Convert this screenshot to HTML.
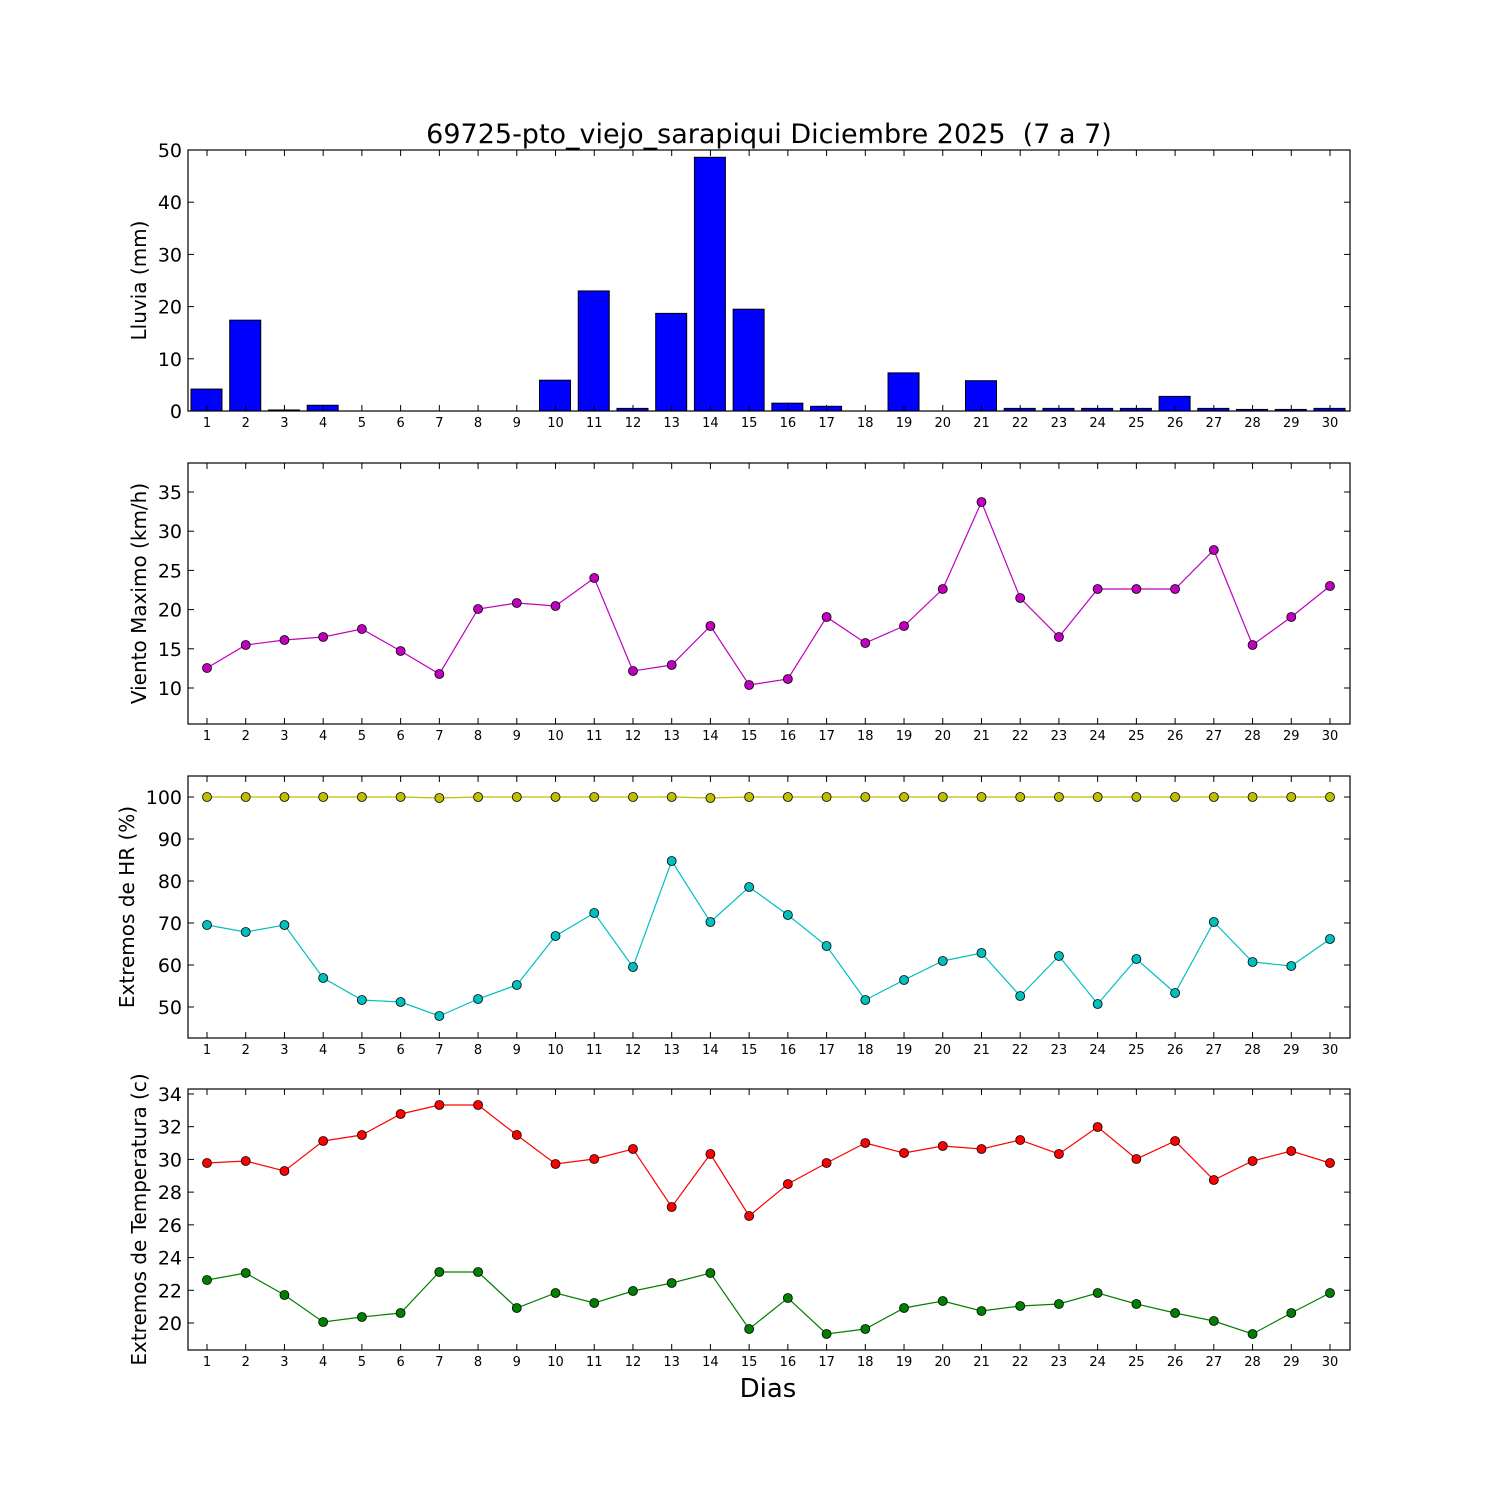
<!DOCTYPE html>
<html><head><meta charset="utf-8"><style>
html,body{margin:0;padding:0;background:#fff;}
svg text{font-family:"DejaVu Sans","Liberation Sans",sans-serif;}
</style></head><body>
<svg id="s" width="1500" height="1500" xmlns="http://www.w3.org/2000/svg"></svg>
<script>
const s=document.getElementById('s');let h='';
const X=d=>207+(d-1)*(1123/29);
const L=188,R=1350;
const panels=[{t:150,b:411},{t:463,b:724},{t:776,b:1038},{t:1089,b:1350}];
h+='<rect width="1500" height="1500" fill="#fff"/>';
const rain=[4.2,17.4,0.2,1.1,0,0,0,0,0,5.9,23,0.5,18.7,48.6,19.5,1.5,0.9,0,7.3,0,5.8,0.5,0.5,0.5,0.5,2.8,0.5,0.3,0.3,0.5];
rain.forEach((v,i)=>{const x=X(i+1)-16,y=411-v*5.22;h+=`<rect x="${x}" y="${y}" width="31" height="${411-y}" fill="#0000ff" stroke="#000" stroke-width="1"/>`;});
function line(ys,col){let p=ys.map((y,i)=>X(i+1)+','+y).join(' ');h+=`<polyline points="${p}" fill="none" stroke="${col}" stroke-width="1.2"/>`;ys.forEach((y,i)=>h+=`<circle cx="${X(i+1)}" cy="${y}" r="4.5" fill="${col}" stroke="#000" stroke-width="0.8"/>`);}
line([668,645,640,637,629,651,674,609,603,606,578,671,665,626,685,679,617,643,626,589,502,598,637,589,589,589,550,645,617,586],'#bf00bf');
line([797,797,797,797,797,797,798,797,797,797,797,797,797,798,797,797,797,797,797,797,797,797,797,797,797,797,797,797,797,797],'#bfbf00');
line([925,932,925,978,1000,1002,1016,999,985,936,913,967,861,922,887,915,946,1000,980,961,953,996,956,1004,959,993,922,962,966,939],'#00bfbf');
line([1163,1161,1171,1141,1135,1114,1105,1105,1135,1164,1159,1149,1207,1154,1216,1184,1163,1143,1153,1146,1149,1140,1154,1127,1159,1141,1180,1161,1151,1163],'#ff0000');
line([1280,1273,1295,1322,1317,1313,1272,1272,1308,1293,1303,1291,1283,1273,1329,1298,1334,1329,1308,1301,1311,1306,1304,1293,1304,1313,1321,1334,1313,1293],'#008000');
const yt=[
 {vals:[0,10,20,30,40,50],f:v=>411-v*5.22},
 {vals:[10,15,20,25,30,35],f:v=>688-(v-10)*7.84},
 {vals:[50,60,70,80,90,100],f:v=>797+(100-v)*4.2},
 {vals:[20,22,24,26,28,30,32,34],f:v=>1323-(v-20)*16.36}];
const labels=['Lluvia (mm)','Viento Maximo (km/h)','Extremos de HR (%)','Extremos de Temperatura (c)'];
const lx=[140,140,128,140];
panels.forEach((p,k)=>{
 h+=`<rect x="${L}" y="${p.t}" width="${R-L}" height="${p.b-p.t}" fill="none" stroke="#000" stroke-width="1.2"/>`;
 for(let d=1;d<=30;d++){const x=X(d);h+=`<line x1="${x}" y1="${p.b}" x2="${x}" y2="${p.b-6}" stroke="#000"/><line x1="${x}" y1="${p.t}" x2="${x}" y2="${p.t+6}" stroke="#000"/><text x="${x}" y="${p.b+16}" font-size="13" text-anchor="middle">${d}</text>`;}
 yt[k].vals.forEach(v=>{const y=yt[k].f(v);h+=`<line x1="${L}" y1="${y}" x2="${L+6}" y2="${y}" stroke="#000"/><line x1="${R}" y1="${y}" x2="${R-6}" y2="${y}" stroke="#000"/><text x="${L-6}" y="${y+7}" font-size="19" text-anchor="end">${v}</text>`;});
 const cy=(p.t+p.b)/2;h+=`<text x="${lx[k]+6}" y="${cy}" font-size="20" text-anchor="middle" transform="rotate(-90 ${lx[k]+6} ${cy})">${labels[k]}</text>`;
});
h+=`<text x="769" y="143" font-size="27" text-anchor="middle">69725-pto_viejo_sarapiqui Diciembre 2025 &#160;(7 a 7)</text>`;
h+=`<text x="768" y="1397" font-size="26" text-anchor="middle">Dias</text>`;
s.innerHTML=h;
</script>
</body></html>
